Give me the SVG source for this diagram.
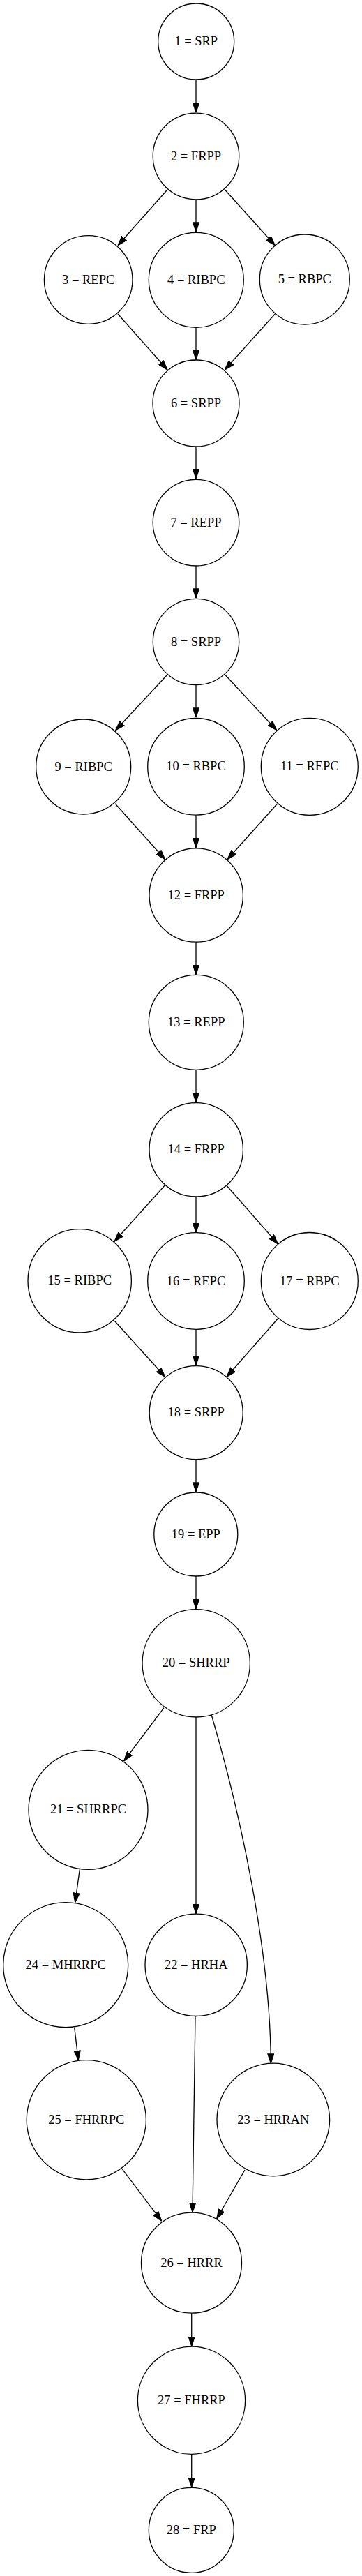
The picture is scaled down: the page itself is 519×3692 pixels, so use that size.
<svg xmlns="http://www.w3.org/2000/svg" width="519" height="3692" viewBox="0 0 519 3692">
<style>
.n circle{fill:#fff;stroke:#000;stroke-width:1.3}
.n text{font-family:"Liberation Serif","Times New Roman",serif;font-size:18.5px;text-anchor:middle;fill:#000}
#edges path{fill:none;stroke:#000;stroke-width:1.3;marker-end:url(#ah)}
</style>
<defs>
<marker id="ah" markerUnits="userSpaceOnUse" viewBox="0 0 14 10" markerWidth="14" markerHeight="10" refX="14" refY="5" orient="auto">
<path d="M0.6,0.6 L14,5 L0.6,9.4 z" fill="#000" stroke="#000" stroke-width="1.2"/>
</marker>
</defs>
<rect width="519" height="3692" fill="#fff"/>
<g id="edges">
<path d="M281,114 L281,161.3"/>
<path d="M240,271.7 L169,351.7"/>
<path d="M281,285.7 L281,332.3"/>
<path d="M322.3,271.7 L394.3,351.7"/>
<path d="M169,450 L240,530"/>
<path d="M281,469.3 L281,515.5"/>
<path d="M394.3,450 L322.3,530"/>
<path d="M281,640 L281,686"/>
<path d="M281,811 L281,857.3"/>
<path d="M239.3,967.7 L165.7,1046.7"/>
<path d="M281,981.7 L281,1028.3"/>
<path d="M323.3,967.7 L396.7,1046.7"/>
<path d="M165,1151.7 L236.7,1231.7"/>
<path d="M281,1168.3 L281,1215"/>
<path d="M397.3,1152.3 L326,1231.7"/>
<path d="M281,1350 L281,1396.7"/>
<path d="M281,1533.3 L281,1580"/>
<path d="M236,1699.3 L164,1779.3"/>
<path d="M281,1715 L281,1766.7"/>
<path d="M325,1699.3 L398.3,1782.7"/>
<path d="M164.3,1893.3 L236.7,1973.3"/>
<path d="M281,1905.3 L281,1956.7"/>
<path d="M398.3,1890 L325,1973.3"/>
<path d="M281,2091.7 L281,2138.3"/>
<path d="M281,2259 L281,2306"/>
<path d="M235,2447.7 L177.7,2524"/>
<path d="M281,2461 L281,2742.7"/>
<path d="M303.3,2458.3 C345,2600 388,2800 388.3,2957.3"/>
<path d="M114.3,2679.3 L107.7,2726.7"/>
<path d="M106.7,2905.7 L112.3,2952.7"/>
<path d="M280,2889.3 L276,3170.7"/>
<path d="M175,3108.3 L231.7,3183.3"/>
<path d="M351,3110 L310.7,3180"/>
<path d="M274.7,3315 L274.7,3362.7"/>
<path d="M274.7,3517.3 L274.7,3564.7"/>
</g>
<g id="n1" class="n"><circle cx="281.2" cy="59.5" r="54.5"/><text x="281.2" y="65">1 = SRP</text></g>
<g id="n2" class="n"><circle cx="281" cy="224" r="61.8"/><text x="281" y="229.5">2 = FRPP</text></g>
<g id="n3" class="n"><circle cx="126.7" cy="401" r="63.3"/><text x="126.7" y="406.5">3 = REPC</text></g>
<g id="n4" class="n"><circle cx="281.3" cy="401.3" r="68"/><text x="281.3" y="406.8">4 = RIBPC</text></g>
<g id="n5" class="n"><circle cx="436.8" cy="400.5" r="64.5"/><text x="436.8" y="406">5 = RBPC</text></g>
<g id="n6" class="n"><circle cx="281" cy="578" r="62"/><text x="281" y="583.5">6 = SRPP</text></g>
<g id="n7" class="n"><circle cx="281" cy="749.2" r="61.8"/><text x="281" y="754.7">7 = REPP</text></g>
<g id="n8" class="n"><circle cx="281" cy="920" r="61.7"/><text x="281" y="925.5">8 = SRPP</text></g>
<g id="n9" class="n"><circle cx="119.7" cy="1099" r="68"/><text x="119.7" y="1104.5">9 = RIBPC</text></g>
<g id="n10" class="n"><circle cx="281" cy="1098.8" r="69.3"/><text x="281" y="1104.3">10 = RBPC</text></g>
<g id="n11" class="n"><circle cx="443.8" cy="1098.8" r="69.5"/><text x="443.8" y="1104.3">11 = REPC</text></g>
<g id="n12" class="n"><circle cx="281.2" cy="1283" r="67.2"/><text x="281.2" y="1288.5">12 = FRPP</text></g>
<g id="n13" class="n"><circle cx="281.3" cy="1465.3" r="68"/><text x="281.3" y="1470.8">13 = REPP</text></g>
<g id="n14" class="n"><circle cx="281.2" cy="1647.8" r="67.2"/><text x="281.2" y="1653.3">14 = FRPP</text></g>
<g id="n15" class="n"><circle cx="114.2" cy="1835.8" r="74.2"/><text x="114.2" y="1841.3">15 = RIBPC</text></g>
<g id="n16" class="n"><circle cx="281" cy="1836" r="69.3"/><text x="281" y="1841.5">16 = REPC</text></g>
<g id="n17" class="n"><circle cx="443.8" cy="1836" r="69.5"/><text x="443.8" y="1841.5">17 = RBPC</text></g>
<g id="n18" class="n"><circle cx="281.2" cy="2024.7" r="67"/><text x="281.2" y="2030.2">18 = SRPP</text></g>
<g id="n19" class="n"><circle cx="280.8" cy="2199" r="60"/><text x="280.8" y="2204.5">19 = EPP</text></g>
<g id="n20" class="n"><circle cx="281.2" cy="2383.8" r="77.2"/><text x="281.2" y="2389.3">20 = SHRRP</text></g>
<g id="n21" class="n"><circle cx="126.5" cy="2593.8" r="85.5"/><text x="126.5" y="2599.3">21 = SHRRPC</text></g>
<g id="n22" class="n"><circle cx="281.2" cy="2816.3" r="73.2"/><text x="281.2" y="2821.8">22 = HRHA</text></g>
<g id="n23" class="n"><circle cx="391.8" cy="3038" r="80.8"/><text x="391.8" y="3043.5">23 = HRRAN</text></g>
<g id="n24" class="n"><circle cx="94.2" cy="2816.2" r="89.5"/><text x="94.2" y="2821.7">24 = MHRRPC</text></g>
<g id="n25" class="n"><circle cx="123.8" cy="3038.3" r="85.6"/><text x="123.8" y="3043.8">25 = FHRRPC</text></g>
<g id="n26" class="n"><circle cx="274.5" cy="3243.2" r="72"/><text x="274.5" y="3248.7">26 = HRRR</text></g>
<g id="n27" class="n"><circle cx="274.5" cy="3440.3" r="77.1"/><text x="274.5" y="3445.8">27 = FHRRP</text></g>
<g id="n28" class="n"><circle cx="274.3" cy="3626.3" r="61"/><text x="274.3" y="3631.8">28 = FRP</text></g>
</svg>
